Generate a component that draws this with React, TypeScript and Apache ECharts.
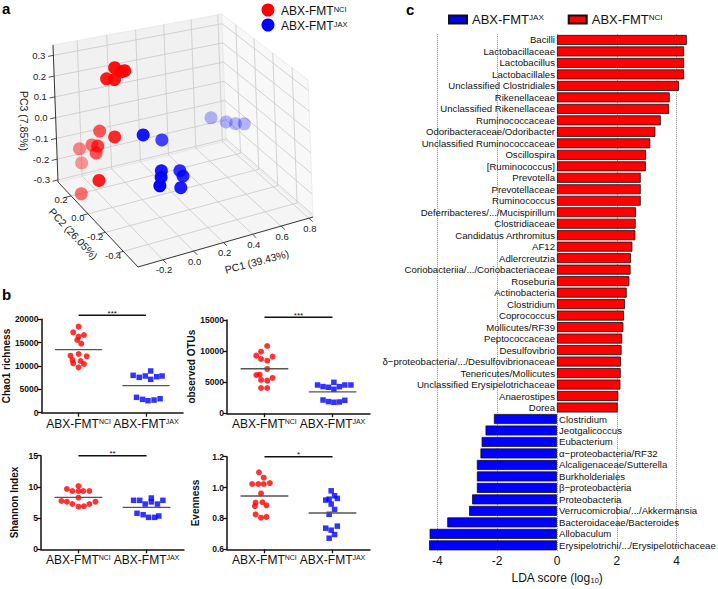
import React, { useEffect, useRef } from "react";
import * as echarts from "echarts";

const FONT = "'Liberation Sans', Arial, Helvetica, sans-serif";
const RED = "#ff0000";
const BLUE = "#0000ff";
const INK = "#111111";

// ---------------- Panel a : PCoA (PC1, PC2, PC3) ----------------
const pc1Ticks = [-0.2, 0, 0.2, 0.4, 0.6, 0.8];
const pc2Ticks = [-0.4, -0.2, 0, 0.2];
const pc3Ticks = [-0.3, -0.2, -0.1, 0, 0.1, 0.2, 0.3];
const pc1Range = [-0.36, 0.83];
const pc2Range = [-0.56, 0.36];
const pc3Range = [-0.31, 0.35];

const pcoaNCI = [
  [-0.095, 0.102, 0.298],
  [-0.049, 0.066, 0.29],
  [-0.059, 0.084, 0.28],
  [-0.136, 0.13, 0.24],
  [-0.109, 0.084, 0.25],
  [-0.17, 0.176, -0.023],
  [-0.172, -0.008, 0.022],
  [-0.2, 0.222, -0.103],
  [-0.235, 0.084, -0.047],
  [-0.235, 0.314, -0.153],
  [-0.223, 0.13, -0.101],
  [-0.224, 0.314, -0.223],
  [-0.334, -0.1, -0.117],
  [-0.329, 0.13, -0.276],
];
const pcoaJAX = [
  [-0.061, -0.146, 0.068],
  [0.089, -0.1, 0.001],
  [0.548, 0.084, -0.038],
  [0.657, 0.084, -0.076],
  [0.725, 0.084, -0.096],
  [0.76, 0.038, -0.084],
  [-0.029, -0.284, -0.05],
  [0.094, -0.284, -0.071],
  [-0.059, -0.33, -0.056],
  [0.086, -0.33, -0.076],
  [-0.096, -0.376, -0.07],
  [0.041, -0.376, -0.103],
];

// ---------------- Panel b : alpha diversity ([x jitter, value]) ----------------
const chaoNCI = [[0, 18430], [-0.08, 17210], [0.08, 16640], [0, 16290], [-0.02, 15570], [0.04, 14790], [0, 12570], [-0.12, 12210], [0.12, 12070], [-0.09, 11290], [0.03, 11070], [-0.08, 10570], [0.08, 10430], [0, 9710]];
const chaoJAX = [[-0.19, 8000], [-0.1, 7570], [-0.01, 7860], [0.07, 8930], [0.07, 7140], [0.16, 7710], [0.24, 7860], [-0.14, 3290], [-0.05, 2860], [0.03, 2570], [0.12, 2710], [0.21, 3000]];
const otuNCI = [[0.04, 10820], [-0.05, 9910], [-0.12, 9270], [0.12, 9110], [-0.05, 8730], [0.04, 8460], [0.04, 7130], [-0.12, 6160], [-0.07, 6210], [0.12, 5680], [-0.05, 5360], [0.04, 5250], [-0.05, 4070], [0.04, 4070]];
const otuJAX = [[-0.22, 4550], [-0.14, 4290], [-0.06, 4180], [0.02, 4980], [0.02, 3860], [0.1, 4290], [0.18, 4550], [0.27, 4550], [-0.14, 2140], [-0.06, 1880], [0.02, 1770], [0.1, 1820], [0.18, 2090]];
const shannonNCI = [[0, 10.14], [-0.17, 9.66], [-0.09, 9.34], [0, 9.34], [0.07, 9.34], [0.16, 9.34], [0, 8.27], [-0.25, 7.74], [-0.17, 7.63], [0.25, 7.63], [-0.09, 7.26], [0.16, 7.26], [0, 6.83], [0.08, 6.9]];
const shannonJAX = [[-0.19, 7.85], [-0.1, 7.85], [-0.02, 7.25], [0.07, 8.22], [0.07, 7.6], [0.16, 7.25], [0.24, 7.85], [-0.14, 5.77], [-0.05, 5.55], [0.03, 5.12], [0.12, 5.12], [0.18, 5.34]];
const evenNCI = [[-0.08, 1.099], [-0.01, 1.064], [-0.18, 1.023], [-0.09, 1.023], [-0.01, 1.023], [0.08, 1.029], [-0.05, 0.962], [-0.13, 0.903], [-0.03, 0.905], [-0.14, 0.88], [0.03, 0.885], [-0.13, 0.826], [-0.05, 0.805], [0.03, 0.81]];
const evenJAX = [[-0.02, 0.979], [0.03, 0.947], [0.07, 0.93], [-0.1, 0.919], [-0.05, 0.925], [-0.02, 0.893], [0.03, 0.858], [-0.05, 0.827], [0.07, 0.75], [-0.1, 0.737], [-0.02, 0.724], [0.03, 0.696], [-0.05, 0.672]];
const groupLabels = ["NCI", "JAX"];

// ---------------- Panel c : LEfSe LDA scores ----------------
const nciTaxa = ["Bacilli", "Lactobacillaceae", "Lactobacillus", "Lactobacillales", "Unclassified Clostridiales", "Rikenellaceae", "Unclassified Rikenellaceae", "Ruminococcaceae", "Odoribacteraceae/Odoribacter", "Unclassified Ruminococcaceae", "Oscillospira", "[Ruminococcus]", "Prevotella", "Prevotellaceae", "Ruminococcus", "Deferribacteres/.../Mucispirillum", "Clostridiaceae", "Candidatus Arthromitus", "AF12", "Adlercreutzia", "Coriobacteriia/.../Coriobacteriaceae", "Roseburia", "Actinobacteria", "Clostridium", "Coprococcus", "Mollicutes/RF39", "Peptococcaceae", "Desulfovibrio", "δ−proteobacteria/.../Desulfovibrionaceae", "Tenericutes/Mollicutes", "Unclassified Erysipelotrichaceae", "Anaerostipes", "Dorea"];
const nciLDA = [4.34, 4.25, 4.25, 4.25, 4.08, 3.77, 3.75, 3.47, 3.29, 3.12, 2.98, 2.97, 2.8, 2.8, 2.8, 2.64, 2.63, 2.62, 2.52, 2.47, 2.46, 2.42, 2.33, 2.27, 2.24, 2.22, 2.18, 2.16, 2.14, 2.13, 2.12, 2.05, 2.03];
const jaxTaxa = ["Clostridium", "Jeotgalicoccus", "Eubacterium", "α−proteobacteria/RF32", "Alcaligenaceae/Sutterella", "Burkholderiales", "β−proteobacteria", "Proteobacteria", "Verrucomicrobia/.../Akkermansia", "Bacteroidaceae/Bacteroides", "Allobaculum", "Erysipelotrichi/.../Erysipelotrichaceae"];
const jaxLDA = [-2.11, -2.39, -2.52, -2.56, -2.68, -2.68, -2.68, -2.84, -2.94, -3.67, -4.26, -4.28];

// ---------------- 3D projection (box geometry) ----------------
const BOX = { fx: 141.3, fy: 258.1, ax: 171.7, ay: -41.1, bx: -83.3, by: -76.1, hx: -5, hy: -137, cx: 185, cy: 140, k: 0.15 };
function projUVW(u: number, v: number, w: number): number[] {
  const x = BOX.fx + u * BOX.ax + v * BOX.bx + w * BOX.hx;
  const y = BOX.fy + u * BOX.ay + v * BOX.by + w * BOX.hy;
  const s = 1 - BOX.k * ((u + v) / 2 - 0.5);
  return [BOX.cx + (x - BOX.cx) * s, BOX.cy + (y - BOX.cy) * s];
}
const nu = (p: number) => (p - pc1Range[0]) / (pc1Range[1] - pc1Range[0]);
const nv = (p: number) => (p - pc2Range[0]) / (pc2Range[1] - pc2Range[0]);
const nw = (p: number) => (p - pc3Range[0]) / (pc3Range[1] - pc3Range[0]);
const depthOf = (p: number[]) => nu(p[0]) + nv(p[1]) - 0.8 * nw(p[2]);

const supRich = (size: number, supSize: number, color: string) => ({
  m: { fontSize: size, fontFamily: FONT, color },
  s: { fontSize: supSize, fontFamily: FONT, color, verticalAlign: "top" },
});
const supRichZr = (size: number, supSize: number, color: string) => ({
  m: { fontSize: size, fontFamily: FONT, fill: color },
  s: { fontSize: supSize, fontFamily: FONT, fill: color, verticalAlign: "top" },
});

const mean = (arr: number[][]) => arr.reduce((s, d) => s + d[1], 0) / arr.length;

const dotPlots = [
  { nci: chaoNCI, jax: chaoJAX, name: "Chao1 richness", min: 0, max: 20000, interval: 5000, grid: { left: 40, top: 319.3, width: 143, height: 93.4 }, nameGap: 28, sigY: 20857, stars: "***", dec: 0 },
  { nci: otuNCI, jax: otuJAX, name: "observed OTUs", min: 0, max: 15000, interval: 5000, grid: { left: 227, top: 320, width: 143, height: 93.3 }, nameGap: 25, sigY: 15434, stars: "***", dec: 0 },
  { nci: shannonNCI, jax: shannonJAX, name: "Shannon Index", min: 0, max: 15, interval: 5, grid: { left: 41, top: 455.7, width: 143, height: 93.6 }, nameGap: 22, sigY: 15, stars: "**", dec: 0 },
  { nci: evenNCI, jax: evenJAX, name: "Evenness", min: 0.6, max: 1.2, interval: 0.2, grid: { left: 227, top: 456.7, width: 143, height: 92.6 }, nameGap: 27, sigY: 1.2, stars: "*", dec: 1 },
];

function buildOption(): any {
  const grids: any[] = [];
  const xAxes: any[] = [];
  const yAxes: any[] = [];
  const series: any[] = [];

  dotPlots.forEach((p, i) => {
    grids.push({ ...p.grid });
    xAxes.push({
      type: "value", gridIndex: i, min: -0.55, max: 1.55,
      axisLine: { show: true, onZero: false, lineStyle: { color: INK, width: 1.5 } },
      axisTick: { show: true, customValues: [0, 1], length: 4, lineStyle: { color: INK, width: 1.3 } },
      axisLabel: {
        show: true, customValues: [0, 1], margin: 5,
        formatter: (v: number) => `{m|ABX-FMT}{s|${groupLabels[Math.round(v)]}}`,
        rich: supRich(12, 7, INK),
      },
      splitLine: { show: false },
    });
    yAxes.push({
      type: "value", gridIndex: i, min: p.min, max: p.max, interval: p.interval,
      axisLine: { show: true, onZero: false, lineStyle: { color: INK, width: 1.5 } },
      axisTick: { show: true, length: 4, lineStyle: { color: INK, width: 1.3 } },
      axisLabel: { fontSize: 8.5, fontWeight: "bold", color: INK, fontFamily: FONT, margin: 3, formatter: (v: number) => v.toFixed(p.dec) },
      splitLine: { show: false },
      name: p.name, nameLocation: "middle", nameGap: p.nameGap,
      nameTextStyle: { fontSize: 10, fontWeight: "bold", color: INK, fontFamily: FONT },
    });
    series.push({
      type: "scatter", xAxisIndex: i, yAxisIndex: i, symbol: "circle", symbolSize: 6,
      itemStyle: { color: RED }, data: p.nci.map((d) => [d[0], d[1]]), z: 3,
    });
    series.push({
      type: "scatter", xAxisIndex: i, yAxisIndex: i, symbol: "rect", symbolSize: 5.5,
      itemStyle: { color: BLUE }, data: p.jax.map((d) => [1 + d[0], d[1]]), z: 3,
    });
    const mN = mean(p.nci), mJ = mean(p.jax);
    series.push({
      type: "line", xAxisIndex: i, yAxisIndex: i, symbol: "none", silent: true,
      lineStyle: { color: "#555", width: 1.3 }, data: [[-0.35, mN], [0.35, mN]], z: 4,
    });
    series.push({
      type: "line", xAxisIndex: i, yAxisIndex: i, symbol: "none", silent: true,
      lineStyle: { color: "#555", width: 1.3 }, data: [[0.65, mJ], [1.35, mJ]], z: 4,
    });
  });

  // Panel c
  const taxa = [...nciTaxa, ...jaxTaxa];
  const nN = nciTaxa.length;
  grids.push({ left: 437.4, width: 239.2, top: 34.2, height: 522.3 });
  xAxes.push({
    type: "value", gridIndex: 4, min: -4, max: 4, interval: 2,
    axisLine: { show: false }, axisTick: { show: false },
    axisLabel: { fontSize: 12, color: INK, fontFamily: FONT, margin: 4 },
    splitLine: { show: true, lineStyle: { type: "dotted", color: "#8c8c8c", width: 1 } },
    name: "{a|LDA score (log}{b|10}{a|)}", nameLocation: "middle", nameGap: 17,
    nameTextStyle: { rich: { a: { fontSize: 12, color: INK, fontFamily: FONT }, b: { fontSize: 7.5, color: INK, fontFamily: FONT, verticalAlign: "bottom" } } },
  });
  yAxes.push({
    type: "category", gridIndex: 4, inverse: true, data: taxa.map((_, i) => String(i)),
    axisLine: { show: false }, axisTick: { show: false }, axisLabel: { show: false }, splitLine: { show: false },
  });
  const barLabel = { show: true, distance: 2, fontSize: 9.6, color: INK, fontFamily: FONT, formatter: (p: any) => p.name };
  series.push({
    type: "bar", name: "JAX", xAxisIndex: 4, yAxisIndex: 4, barWidth: 10, barGap: "-100%", clip: false,
    itemStyle: { color: BLUE, borderColor: "#111", borderWidth: 0.8 },
    label: { ...barLabel, position: "right" },
    data: taxa.map((n, i) => ({ name: n, value: i >= nN ? jaxLDA[i - nN] : "-" })),
  });
  series.push({
    type: "bar", name: "NCI", xAxisIndex: 4, yAxisIndex: 4, barWidth: 10, barGap: "-100%", clip: false,
    itemStyle: { color: RED, borderColor: "#111", borderWidth: 0.8 },
    label: { ...barLabel, position: "left" },
    data: taxa.map((n, i) => ({ name: n, value: i < nN ? nciLDA[i] : "-" })),
  });

  // Panel a points (custom series, projected)
  const pts = [
    ...pcoaNCI.map((p) => [p[0], p[1], p[2], 0]),
    ...pcoaJAX.map((p) => [p[0], p[1], p[2], 1]),
  ];
  const depths = pts.map(depthOf);
  const dMin = Math.min(...depths), dMax = Math.max(...depths);
  const sorted = pts.map((p, i) => ({ p, d: depths[i] })).sort((a, b) => b.d - a.d);
  series.push({
    type: "custom", coordinateSystem: "none", silent: true, z: 10,
    data: sorted.map((s) => [...s.p, s.d]),
    renderItem: (_params: any, api: any) => {
      const p1 = api.value(0), p2 = api.value(1), p3 = api.value(2), g = api.value(3), d = api.value(4);
      const [x, y] = projUVW(nu(p1), nv(p2), nw(p3));
      const t = (d - dMin) / (dMax - dMin);
      const alpha = Math.max(0.28, 1 - 0.9 * t);
      return { type: "circle", shape: { cx: x, cy: y, r: 6.5 }, style: { fill: g === 0 ? RED : BLUE, opacity: alpha } };
    },
  });

  return {
    animation: false,
    backgroundColor: "#ffffff",
    textStyle: { fontFamily: FONT },
    grid: grids,
    xAxis: xAxes,
    yAxis: yAxes,
    legend: {
      data: [{ name: "JAX", icon: "rect" }, { name: "NCI", icon: "rect" }],
      left: 443, top: 8, itemWidth: 18, itemHeight: 8, itemGap: 24,
      formatter: (n: string) => `{m|ABX-FMT}{s|${n}}`,
      textStyle: { fontSize: 13, rich: supRich(13, 8, INK) },
    },
    series,
  };
}

function build3DGraphics(): any[] {
  const els: any[] = [];
  const P = projUVW;
  const poly = (pts: number[][], fill: string) => ({ type: "polygon", silent: true, z: 0, shape: { points: pts }, style: { fill, stroke: "#e2e2e2", lineWidth: 0.6 } });
  const ln = (a: number[], b: number[], stroke: string, lw: number, z = 1) => ({ type: "line", silent: true, z, shape: { x1: a[0], y1: a[1], x2: b[0], y2: b[1] }, style: { stroke, lineWidth: lw } });
  els.push(poly([P(0, 0, 0), P(1, 0, 0), P(1, 1, 0), P(0, 1, 0)], "#f5f5f5"));
  els.push(poly([P(0, 1, 0), P(1, 1, 0), P(1, 1, 1), P(0, 1, 1)], "#f1f1f1"));
  els.push(poly([P(1, 0, 0), P(1, 1, 0), P(1, 1, 1), P(1, 0, 1)], "#f8f8f8"));
  const GRID = "#c9c9c9";
  pc1Ticks.forEach((t) => {
    const u = nu(t);
    els.push(ln(P(u, 0, 0), P(u, 1, 0), GRID, 0.8));
    els.push(ln(P(u, 1, 0), P(u, 1, 1), GRID, 0.8));
  });
  pc2Ticks.forEach((t) => {
    const v = nv(t);
    els.push(ln(P(0, v, 0), P(1, v, 0), GRID, 0.8));
    els.push(ln(P(1, v, 0), P(1, v, 1), GRID, 0.8));
  });
  pc3Ticks.forEach((t) => {
    const w = nw(t);
    els.push(ln(P(0, 1, w), P(1, 1, w), GRID, 0.8));
    els.push(ln(P(1, 0, w), P(1, 1, w), GRID, 0.8));
  });
  // axis lines
  els.push(ln(P(0, 0, 0), P(1, 0, 0), "#222", 0.9, 2));
  els.push(ln(P(0, 0, 0), P(0, 1, 0), "#222", 0.9, 2));
  els.push(ln(P(0, 1, 0), P(0, 1, 1), "#222", 0.9, 2));
  const tickStyle = { fontSize: 9.5, fontFamily: FONT, fill: "#222" };
  pc1Ticks.forEach((t) => {
    const u = nu(t);
    els.push(ln(P(u, 0, 0), P(u, -0.04, 0), "#222", 0.8, 2));
    const q = P(u, 0, 0);
    els.push({ type: "text", silent: true, z: 2, x: q[0] + 1, y: q[1] + 10, style: { ...tickStyle, text: t.toFixed(1), align: "center", verticalAlign: "middle" } });
  });
  pc2Ticks.forEach((t) => {
    const v = nv(t);
    els.push(ln(P(0, v, 0), P(-0.04, v, 0), "#222", 0.8, 2));
    const q = P(0, v, 0);
    els.push({ type: "text", silent: true, z: 2, x: q[0] - 10, y: q[1] + 4, style: { ...tickStyle, text: t.toFixed(1), align: "center", verticalAlign: "middle" } });
  });
  pc3Ticks.forEach((t) => {
    const w = nw(t);
    els.push(ln(P(0, 1, w), P(-0.03, 1, w), "#222", 0.8, 2));
    const q = P(0, 1, w);
    els.push({ type: "text", silent: true, z: 2, x: q[0] - 8, y: q[1], style: { ...tickStyle, text: t.toFixed(1), align: "right", verticalAlign: "middle" } });
  });
  const nameStyle = { fontSize: 10.5, fontFamily: FONT, fill: "#222", align: "center", verticalAlign: "middle" };
  els.push({ type: "text", silent: true, x: 257, y: 262, rotation: 0.26, style: { ...nameStyle, text: "PC1 (39.43%)" } });
  els.push({ type: "text", silent: true, x: 73, y: 234, rotation: -0.82, style: { ...nameStyle, text: "PC2 (26.05%)" } });
  els.push({ type: "text", silent: true, x: 24, y: 121, rotation: -Math.PI / 2, style: { ...nameStyle, text: "PC3 (7.85%)" } });
  // legend a
  [[RED, "NCI", 10], [BLUE, "JAX", 25]].forEach(([c, lab, y]: any) => {
    els.push({ type: "circle", silent: true, shape: { cx: 268, cy: y, r: 6.5 }, style: { fill: c } });
    els.push({ type: "text", silent: true, x: 281, y: y + 1, style: { text: `{m|ABX-FMT}{s|${lab}}`, rich: supRichZr(12, 7.5, INK), verticalAlign: "middle", align: "left" } });
  });
  return els;
}

function buildGraphics(chart: any): any[] {
  const els: any[] = build3DGraphics();
  const lab = (t: string, x: number, y: number) => ({ type: "text", silent: true, x, y, style: { text: t, fontSize: 15, fontWeight: "bold", fontFamily: FONT, fill: "#000", align: "left", verticalAlign: "top" } });
  els.push(lab("a", 2, 1));
  els.push(lab("b", 2, 287));
  els.push(lab("c", 406, 2));
  dotPlots.forEach((p, i) => {
    const a = chart.convertToPixel({ gridIndex: i }, [0, p.sigY]);
    const b = chart.convertToPixel({ gridIndex: i }, [1, p.sigY]);
    els.push({ type: "line", silent: true, shape: { x1: a[0], y1: a[1], x2: b[0], y2: b[1] }, style: { stroke: INK, lineWidth: 1.6 } });
    els.push({ type: "text", silent: true, x: (a[0] + b[0]) / 2, y: a[1] - 2, style: { text: p.stars, fontSize: 8, fontFamily: FONT, fill: INK, align: "center", verticalAlign: "middle" } });
  });
  return els;
}

export default function App() {
  const ref = useRef<HTMLDivElement>(null);
  useEffect(() => {
    if (!ref.current) return;
    const chart = echarts.init(ref.current, undefined, { renderer: "svg", width: 718, height: 589 });
    chart.setOption(buildOption());
    chart.setOption({ graphic: buildGraphics(chart) });
    return () => chart.dispose();
  }, []);
  return <div ref={ref} style={{ position: "fixed", left: 0, top: 0, width: 718, height: 589, background: "#fff" }} />;
}
